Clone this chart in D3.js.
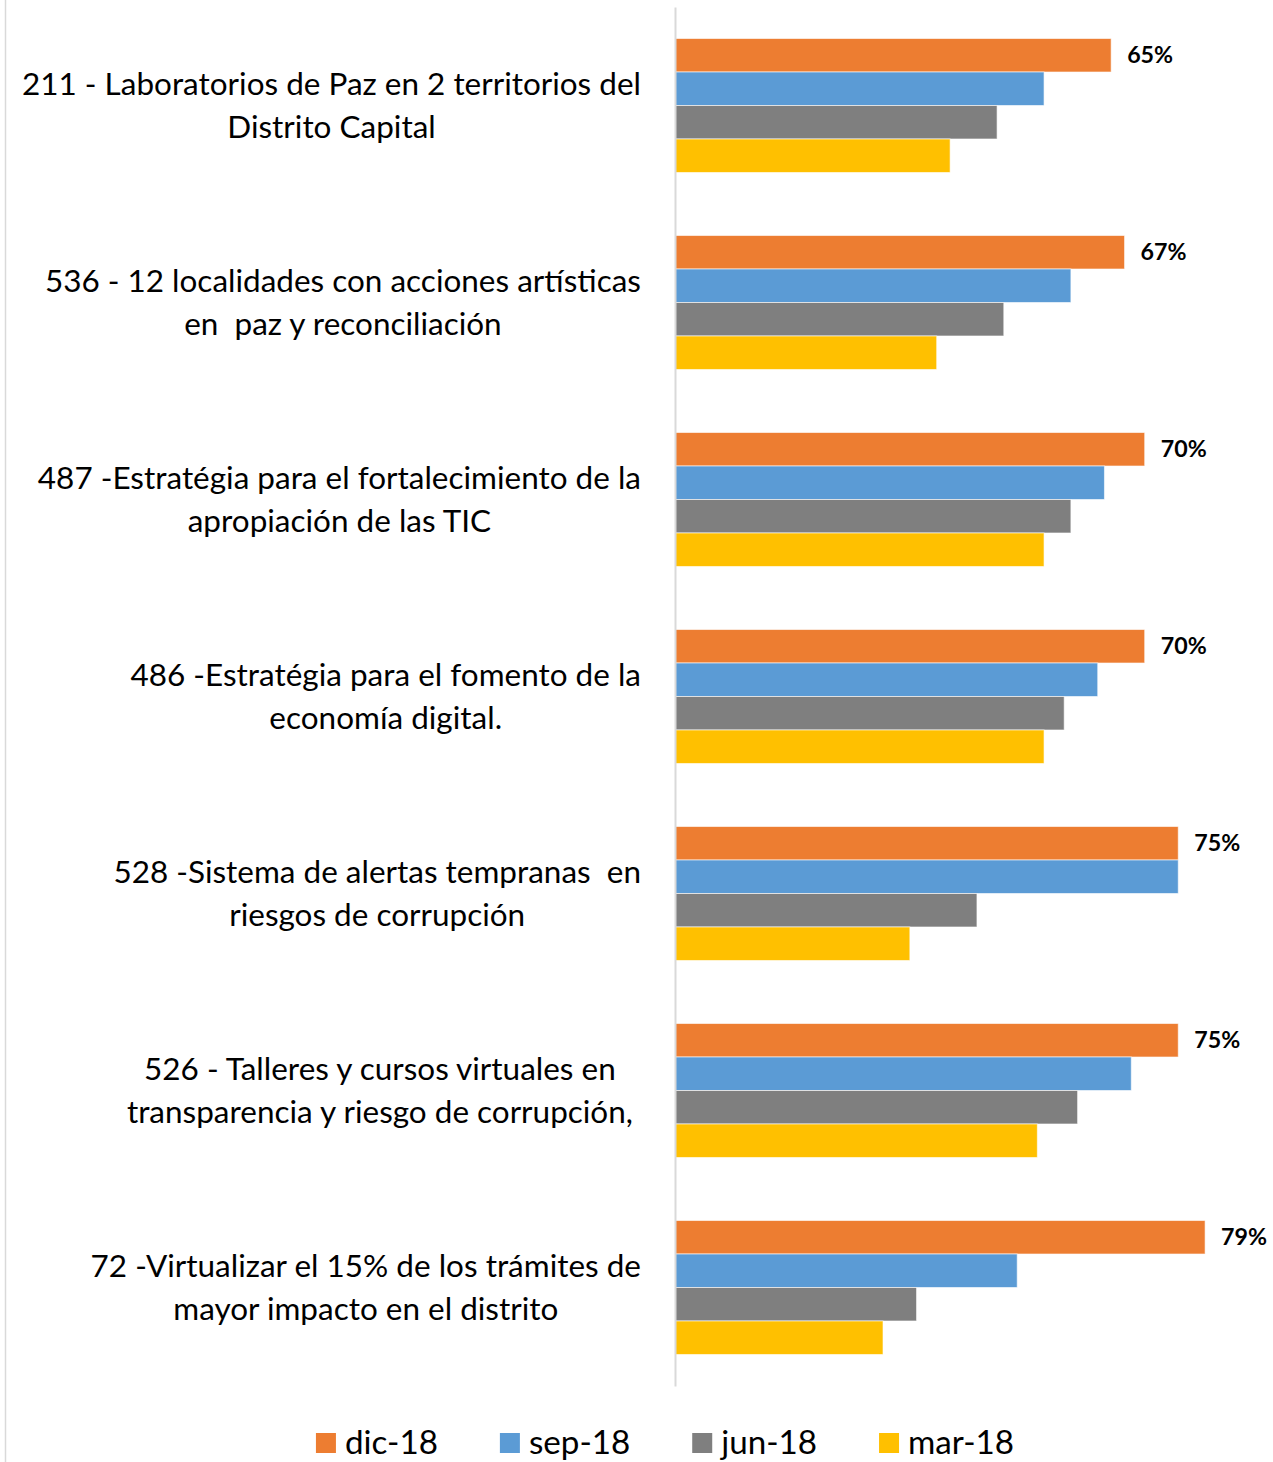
<!DOCTYPE html>
<html>
<head>
<meta charset="utf-8">
<script src="https://cdn.jsdelivr.net/npm/d3@7"></script>
<style>
  body { margin: 0; background: #fff; }
  text { font-family: Lato, "Open Sans", sans-serif; white-space: pre; }
</style>
</head>
<body>
<div id="chart"></div>
<script>
// categories (two lines each, as wrapped in the original)
var categories = [
  "211 - Laboratorios de Paz en 2 territorios del\nDistrito Capital",
  "536 - 12 localidades con acciones artísticas\nen  paz y reconciliación",
  "487 -Estratégia para el fortalecimiento de la\napropiación de las TIC",
  "486 -Estratégia para el fomento de la\neconomía digital.",
  "528 -Sistema de alertas tempranas  en\nriesgos de corrupción",
  "526 - Talleres y cursos virtuales en \ntransparencia y riesgo de corrupción, ",
  "72 -Virtualizar el 15% de los trámites de\nmayor impacto en el distrito"
];
var series = ["dic-18", "sep-18", "jun-18", "mar-18"];
var colors = ["#ED7D31", "#5B9BD5", "#7F7F7F", "#FFC000"];

var dic18 = [0.65, 0.67, 0.70, 0.70, 0.75, 0.75, 0.79];
var sep18 = [0.55, 0.59, 0.64, 0.63, 0.75, 0.68, 0.51];
var jun18 = [0.48, 0.49, 0.59, 0.58, 0.45, 0.60, 0.36];
var mar18 = [0.41, 0.39, 0.55, 0.55, 0.35, 0.54, 0.31];
var values = [dic18, sep18, jun18, mar18];

var W = 1273, H = 1462;
var svg = d3.select("#chart").append("svg")
    .attr("width", W)
    .attr("height", H);

// outer frame line on the left
svg.append("line")
    .attr("x1", 5.5).attr("x2", 5.5)
    .attr("y1", 0).attr("y2", H)
    .attr("stroke", "#d9d9d9").attr("stroke-width", 1.5);

var x = d3.scaleLinear().domain([0, 1]).range([675, 1346]);
var y = d3.scaleBand()
    .domain(d3.range(categories.length))
    .range([7, 1386])
    .paddingInner(0.32)
    .paddingOuter(0.16);
var y1 = d3.scaleBand()
    .domain(series)
    .range([0, y.bandwidth()]);

// bars
var groups = svg.selectAll(".grp")
    .data(categories)
  .enter().append("g")
    .attr("class", "grp")
    .attr("transform", function(d, i) { return "translate(0," + y(i) + ")"; });

groups.selectAll("rect")
    .data(function(d, i) {
      return series.map(function(s, j) { return {s: s, j: j, v: values[j][i]}; });
    })
  .enter().append("rect")
    .attr("x", x(0))
    .attr("y", function(d) { return y1(d.s); })
    .attr("width", function(d) { return x(d.v) - x(0); })
    .attr("height", y1.bandwidth())
    .attr("fill", function(d) { return colors[d.j]; })
    .attr("stroke", "#ffffff")
    .attr("stroke-opacity", 0.6)
    .attr("stroke-width", 1);

// vertical axis line
var axis = svg.append("g")
    .attr("transform", "translate(" + x(0) + ",0)")
    .call(d3.axisLeft(y).tickSize(0).tickFormat(""));
axis.select(".domain").attr("stroke", "#d9d9d9").attr("stroke-width", 2);

// helper: horizontal fit factor so the fallback font matches the original widths
function fitFactor(str, size, weight, target) {
  var t = svg.append("text").attr("font-size", size).attr("font-weight", weight).text(str);
  var w = t.node().getComputedTextLength();
  t.remove();
  return target / w;
}
var kLab = fitFactor("211 - Laboratorios de Paz en 2 territorios del", 30, 400, 619);
var kVal = fitFactor("65%", 22.5, 700, 46);
var kLeg = fitFactor("dic-18", 32, 400, 93);

// category labels: centered block, widest line ending at x=641
categories.forEach(function(c, i) {
  var lines = c.split("\n");
  var g = svg.append("g");
  var texts = lines.map(function(l) {
    return g.append("text").attr("font-size", 30).attr("fill", "#000")
      .attr("text-anchor", "middle").text(l);
  });
  var maxW = d3.max(texts, function(t) { return t.node().getComputedTextLength(); }) * kLab;
  var cx = 641 - maxW / 2;
  var cy = y(i) + y.bandwidth() / 2;
  texts.forEach(function(t, k) {
    var by = cy - 21.5 + k * 43 + 10.7;
    t.attr("transform", "translate(" + cx + "," + by + ") scale(" + kLab + ",1)");
  });
});

// data labels on the dic-18 bars
svg.selectAll(".val")
    .data(dic18)
  .enter().append("text")
    .attr("class", "val")
    .attr("font-size", 22.5)
    .attr("font-weight", 700)
    .attr("fill", "#000")
    .attr("transform", function(d, i) {
      return "translate(" + (x(d) + 16) + "," + (y(i) + y1("dic-18") + y1.bandwidth() / 2 + 8) + ") scale(" + kVal + ",1)";
    })
    .text(function(d) { return d3.format(".0%")(d); });

// legend
var leg = svg.append("g");
var lx = 0;
var items = series.map(function(s, j) {
  var it = leg.append("g");
  it.append("rect").attr("x", 0).attr("y", 1433).attr("width", 20).attr("height", 20)
    .attr("fill", colors[j]);
  var t = it.append("text").attr("font-size", 32).attr("fill", "#000")
    .attr("transform", "translate(29,1454) scale(" + kLeg + ",1)").text(s);
  var w = 29 + t.node().getComputedTextLength() * kLeg;
  it.attr("transform", "translate(" + lx + ",0)");
  lx += w + 62;
  return w;
});
var total = lx - 62;
leg.attr("transform", "translate(" + (665 - total / 2) + ",0)");
</script>
</body>
</html>
